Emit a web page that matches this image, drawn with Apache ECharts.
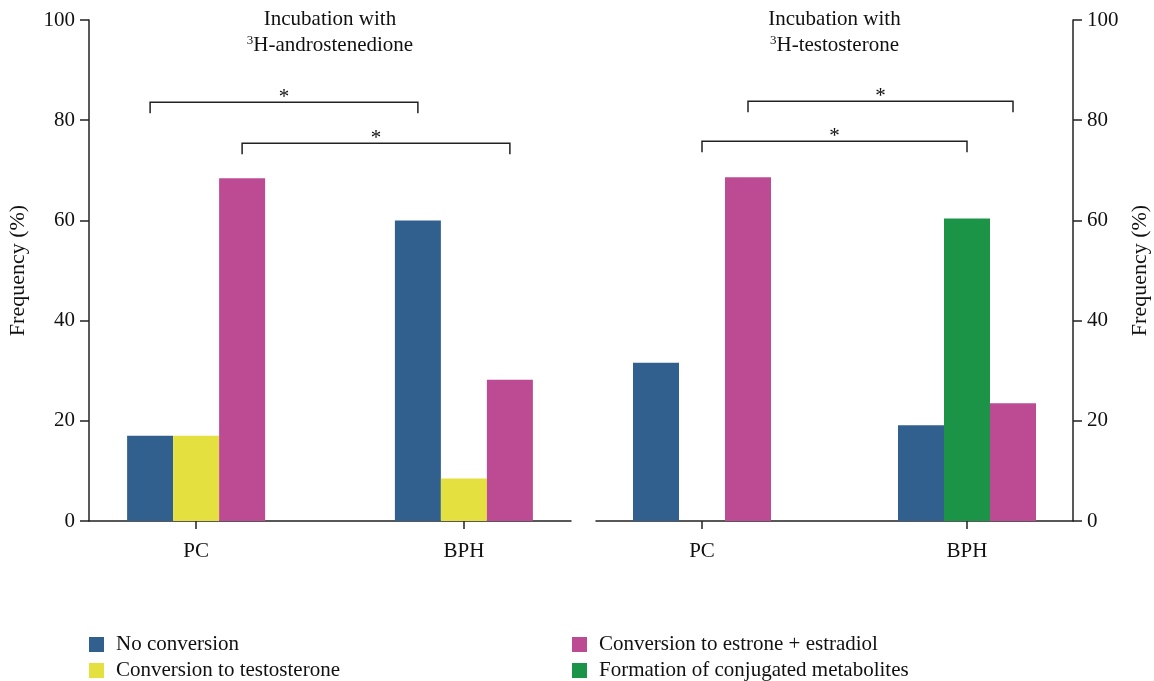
<!DOCTYPE html>
<html>
<head>
<meta charset="utf-8">
<title>Steroid conversion frequency</title>
<script src="https://cdn.jsdelivr.net/npm/echarts@6/dist/echarts.min.js"></script>
<style>
  html, body { margin: 0; padding: 0; background: #fff; }
  #chart { width: 1154px; height: 681px; }
</style>
</head>
<body>
<div id="chart"></div>
<script>
// Tissue groups on the x axis
const categories = ['PC', 'BPH'];
const yTicks = [0, 20, 40, 60, 80, 100];

// Incubation with 3H-androstenedione (frequency, %)
const andNoConversion = [17.0, 60.0];
const andToTestosterone = [17.0, 8.5];
const andToEstrogens = [68.4, 28.2];

// Incubation with 3H-testosterone (frequency, %)
const tesNoConversion = [31.6, 19.1];
const tesConjugated = [0, 60.4];
const tesToEstrogens = [68.6, 23.5];

// Significance brackets: [group A, bar slot A, group B, bar slot B, bracket level %]
const andBrackets = [[1, 0, 2, 0, 83.6], [1, 2, 2, 2, 75.4]];
const tesBrackets = [[1, 2, 2, 2, 83.8], [1, 1, 2, 1, 75.8]];

const NAMES = {
  none: 'No conversion',
  testo: 'Conversion to testosterone',
  estro: 'Conversion to estrone + estradiol',
  conj: 'Formation of conjugated metabolites'
};
const COLORS = {
  none: '#31608f',
  testo: '#e3e040',
  estro: '#bd4b93',
  conj: '#1c9448'
};
const FONT = '"Liberation Serif", "Times New Roman", serif';
const INK = '#222';
const TEXT = '#111';
const BAR_W = 46;

// groups sit at x = 1, 2 on a value axis so the panel can have open margins
const toPoints = vals => vals.map((v, i) => [i + 1, v]);

const textStyle = size => ({ color: TEXT, fontFamily: FONT, fontSize: size });

function xAxisFor(gridIndex) {
  return {
    type: 'value', gridIndex, min: 0.6, max: 2.4,
    axisLine: { show: true, lineStyle: { color: INK, width: 1.5 } },
    axisTick: { show: true, customValues: [1, 2], length: 8, lineStyle: { color: INK, width: 1.5 } },
    axisLabel: Object.assign({
      customValues: [1, 2], margin: 20,
      formatter: v => categories[Math.round(v) - 1] || ''
    }, textStyle(21)),
    splitLine: { show: false }
  };
}

function yAxisFor(gridIndex, position) {
  return {
    type: 'value', gridIndex, position, min: 0, max: 100, interval: 20,
    name: 'Frequency (%)', nameLocation: 'middle', nameRotate: 90,
    nameGap: position === 'left' ? 60 : 56,
    nameTextStyle: textStyle(22),
    axisLine: { show: true, lineStyle: { color: INK, width: 1.5 } },
    axisTick: { show: true, length: 9, lineStyle: { color: INK, width: 1.5 } },
    axisLabel: Object.assign({ margin: 14, customValues: yTicks }, textStyle(21)),
    splitLine: { show: false }
  };
}

function bar(name, color, vals, gridIndex) {
  return {
    type: 'bar', name, xAxisIndex: gridIndex, yAxisIndex: gridIndex,
    data: toPoints(vals), barWidth: BAR_W, barGap: '0%',
    itemStyle: { color }, emphasis: { disabled: true }
  };
}

// Draws a bracket between two bar slots with an asterisk above it
function renderBracket(params, api) {
  const level = api.value(4);
  const a = api.coord([api.value(0), level]);
  const b = api.coord([api.value(2), level]);
  const x1 = a[0] + (api.value(1) - 1) * BAR_W;
  const x2 = b[0] + (api.value(3) - 1) * BAR_W;
  const y = a[1];
  const drop = 11;
  return {
    type: 'group',
    children: [
      {
        type: 'polyline',
        shape: { points: [[x1, y + drop], [x1, y], [x2, y], [x2, y + drop]] },
        style: { stroke: INK, lineWidth: 1.5, fill: null }
      },
      {
        type: 'text',
        style: {
          text: '*', x: (x1 + x2) / 2, y: y - 5,
          align: 'center', verticalAlign: 'middle',
          fontFamily: FONT, fontSize: 21, fill: TEXT
        }
      }
    ]
  };
}

function brackets(data, gridIndex) {
  return {
    type: 'custom', xAxisIndex: gridIndex, yAxisIndex: gridIndex,
    data, renderItem: renderBracket, clip: false, silent: true, z: 5,
    encode: { x: [0, 2], y: 4 }
  };
}

function panelTitle(cx, compound) {
  return [
    {
      type: 'text', x: cx, y: 19,
      style: {
        text: 'Incubation with', align: 'center', verticalAlign: 'middle',
        fontFamily: FONT, fontSize: 21, fill: TEXT
      }
    },
    {
      type: 'text', x: cx, y: 45,
      style: {
        text: '{sup|3}{main|' + compound + '}', align: 'center', verticalAlign: 'middle',
        fill: TEXT,
        rich: {
          sup: { fontFamily: FONT, fontSize: 13, verticalAlign: 'top', fill: TEXT },
          main: { fontFamily: FONT, fontSize: 21, fill: TEXT }
        }
      }
    }
  ];
}

const chart = echarts.init(document.getElementById('chart'), null, { renderer: 'canvas' });

const legendBase = {
  orient: 'vertical', top: 634, padding: 0, itemGap: 5,
  icon: 'rect', itemWidth: 15, itemHeight: 15, selectedMode: false,
  textStyle: Object.assign({ padding: [0, 0, 0, 7] }, textStyle(21))
};

chart.setOption({
  animation: false,
  backgroundColor: '#fff',
  textStyle: { fontFamily: FONT },
  grid: [
    { left: 89, top: 20, width: 482, height: 501 },
    { left: 596, top: 20, width: 477, height: 501 }
  ],
  xAxis: [xAxisFor(0), xAxisFor(1)],
  yAxis: [yAxisFor(0, 'left'), yAxisFor(1, 'right')],
  legend: [
    Object.assign({ left: 89, data: [NAMES.none, NAMES.testo] }, legendBase),
    Object.assign({ left: 572, data: [NAMES.estro, NAMES.conj] }, legendBase)
  ],
  graphic: panelTitle(330, 'H-androstenedione').concat(panelTitle(834.5, 'H-testosterone')),
  series: [
    bar(NAMES.none, COLORS.none, andNoConversion, 0),
    bar(NAMES.testo, COLORS.testo, andToTestosterone, 0),
    bar(NAMES.estro, COLORS.estro, andToEstrogens, 0),
    brackets(andBrackets, 0),
    bar(NAMES.none, COLORS.none, tesNoConversion, 1),
    bar(NAMES.conj, COLORS.conj, tesConjugated, 1),
    bar(NAMES.estro, COLORS.estro, tesToEstrogens, 1),
    brackets(tesBrackets, 1)
  ]
});
</script>
</body>
</html>
